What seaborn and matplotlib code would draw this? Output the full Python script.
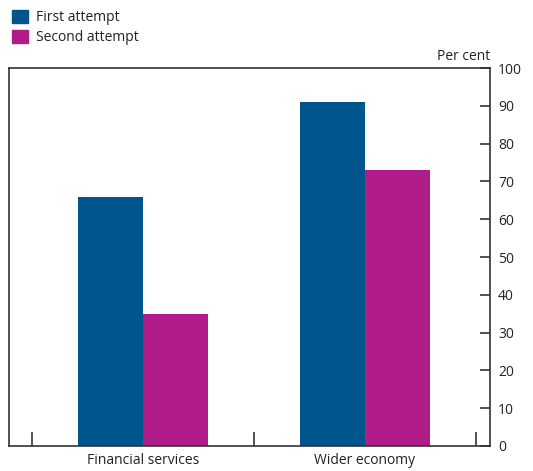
import pandas as pd
import matplotlib.pyplot as plt
import seaborn as sns
from matplotlib.patches import Patch

categories = ['Financial services', 'Wider economy']
first_attempt = [66, 91]
second_attempt = [35, 73]
series = ['First attempt', 'Second attempt']
colors = ['#00568C', '#B01C88']

df = pd.DataFrame({
    'category': categories * 2,
    'attempt': [series[0]] * 2 + [series[1]] * 2,
    'value': first_attempt + second_attempt,
})

sns.set_style('white')
plt.rcParams['font.family'] = ['Open Sans', 'DejaVu Sans']

fig = plt.figure(figsize=(5.33, 4.71), dpi=100)
ax = fig.add_axes([0.0169, 0.0531, 0.902, 0.8025])

sns.barplot(data=df, x='category', y='value', hue='attempt', palette=colors,
            width=0.585, gap=0, saturation=1, ax=ax, legend=False, errorbar=None,
            linewidth=0, edgecolor='none')

ax.set_xlim(-0.604, 1.563)
ax.set_ylim(0, 100)
ax.set_yticks(range(0, 101, 10))
ax.yaxis.tick_right()
ax.tick_params(axis='y', right=True, direction='in', length=7, width=1.2,
               color='#333333', labelsize=10, pad=6, labelcolor='#222222')
ax.tick_params(axis='x', which='major', bottom=True, length=0, labelsize=10, pad=5,
               labelcolor='#222222')
ax.set_xlabel('')
ax.set_ylabel('')

# category separator ticks along the bottom
ax.set_xticks([-0.5, 0.5, 1.5], minor=True)
ax.tick_params(axis='x', which='minor', bottom=True, direction='in', length=10, width=1.2,
               color='#333333')

for s in ax.spines.values():
    s.set_visible(True)
    s.set_color('#333333')
    s.set_linewidth(1.2)

ax.text(1.0, 1.01, 'Per cent', transform=ax.transAxes, ha='right', va='bottom',
        fontsize=10, color='#222222')

handles = [Patch(color=c) for c in colors]
fig.legend(handles, series, loc='upper left', bbox_to_anchor=(0.005, 1.0), frameon=False,
           fontsize=10, handlelength=1.1, handleheight=1.1, handletextpad=0.6,
           labelspacing=0.35, borderaxespad=0.3, labelcolor='#222222')

fig.savefig('out.png', dpi=100)
